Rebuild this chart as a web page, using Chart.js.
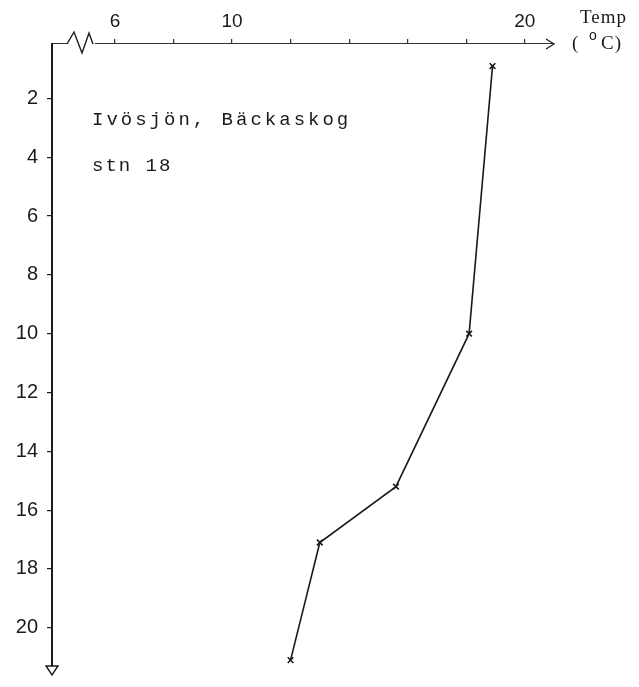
<!DOCTYPE html>
<html><head><meta charset="utf-8">
<script src="https://cdn.jsdelivr.net/npm/chart.js@4/dist/chart.umd.min.js"></script>
<style>html,body{margin:0;padding:0;background:#fff}#wrap{width:639px;height:687px}</style>
</head><body><div id="wrap"><canvas id="c" width="639" height="687"></canvas></div>
<script>
// Data (temperature profile, depth in m)
const temperatures = [18.9, 18.1, 15.6, 13.0, 12.0];
const depths = [0.9, 10.0, 15.2, 17.1, 21.1];
const tempTicks = [6, 8, 10, 12, 14, 16, 18, 20];
const tempTickLabels = ['6', '', '10', '', '', '', '', '20'];
const depthTicks = [2, 4, 6, 8, 10, 12, 14, 16, 18, 20];
const noteLines = ['Ivösjön, Bäckaskog', 'stn 18'];
const axisTitleLines = ['Temp', '(', 'o', 'C)'];

const INK = '#1a1a1a';
const points = temperatures.map((t, i) => ({x: t, y: depths[i]}));

const decor = {
  id: 'decor',
  afterDraw(chart) {
    const ctx = chart.ctx;
    const ca = chart.chartArea;
    const axY = ca.top;
    ctx.save();
    // axis break squiggle
    const x0 = ca.left + 15;
    ctx.fillStyle = '#fff';
    ctx.fillRect(x0, axY - 3, 28, 6);
    ctx.strokeStyle = INK;
    ctx.lineWidth = 1.4;
    ctx.beginPath();
    ctx.moveTo(x0, axY);
    ctx.lineTo(x0 + 7, axY - 12);
    ctx.lineTo(x0 + 15, axY + 9);
    ctx.lineTo(x0 + 22, axY - 11);
    ctx.lineTo(x0 + 26, axY);
    ctx.stroke();
    // x-axis arrow
    const xr = ca.right;
    ctx.lineWidth = 1.2;
    ctx.beginPath();
    ctx.moveTo(xr - 8, axY - 5);
    ctx.lineTo(xr, axY);
    ctx.lineTo(xr - 8, axY + 5);
    ctx.stroke();
    // y-axis arrow
    const yb = ca.bottom;
    ctx.lineWidth = 1.4;
    ctx.beginPath();
    ctx.moveTo(ca.left - 6, yb);
    ctx.lineTo(ca.left + 6, yb);
    ctx.lineTo(ca.left, yb + 9);
    ctx.closePath();
    ctx.stroke();
    // notes
    ctx.fillStyle = INK;
    ctx.textBaseline = 'middle';
    ctx.textAlign = 'left';
    ctx.font = '19px "Liberation Mono"';
    ctx.letterSpacing = '3px';
    ctx.fillText(noteLines[0], 92, 120);
    ctx.letterSpacing = '2px';
    ctx.fillText(noteLines[1], 92, 166);
    // axis title
    ctx.letterSpacing = '1px';
    ctx.font = '19px "Liberation Serif"';
    ctx.fillText(axisTitleLines[0], 580, 18);
    ctx.fillText(axisTitleLines[1], 572, 44);
    ctx.font = '14px "Liberation Sans"';
    ctx.fillText(axisTitleLines[2], 589, 36);
    ctx.font = '19px "Liberation Serif"';
    ctx.fillText(axisTitleLines[3], 601, 44);
    ctx.restore();
  }
};

new Chart(document.getElementById('c'), {
  type: 'scatter',
  data: {
    datasets: [{
      data: points,
      showLine: true,
      borderColor: INK,
      borderWidth: 1.6,
      pointStyle: 'crossRot',
      pointRadius: 4,
      pointBorderWidth: 1.6,
      pointBorderColor: INK,
      tension: 0
    }]
  },
  options: {
    responsive: false,
    animation: false,
    devicePixelRatio: 1,
    layout: {padding: {left: 0, top: 0, right: 85, bottom: 10}},
    plugins: {legend: {display: false}, tooltip: {enabled: false}},
    scales: {
      x: {
        type: 'linear',
        position: 'top',
        min: 3.85,
        max: 21.0,
        afterBuildTicks: s => { s.ticks = tempTicks.map(v => ({value: v})); },
        afterFit: s => { s.height = 44; },
        ticks: {
          autoSkip: false,
          maxRotation: 0,
          padding: 6,
          color: INK,
          font: {family: 'Liberation Sans', size: 19},
          callback: v => tempTickLabels[tempTicks.indexOf(v)] ?? ''
        },
        grid: {drawOnChartArea: false, drawTicks: true, tickLength: 5, color: '#333', lineWidth: 1.2},
        border: {display: true, color: '#333', width: 1.1}
      },
      y: {
        type: 'linear',
        reverse: true,
        min: 0.15,
        max: 21.3,
        afterBuildTicks: s => { s.ticks = depthTicks.map(v => ({value: v})); },
        afterFit: s => { s.width = 52; },
        ticks: {
          autoSkip: false,
          padding: 9,
          color: INK,
          font: {family: 'Liberation Sans', size: 20},
          callback: v => String(v)
        },
        grid: {drawOnChartArea: false, drawTicks: true, tickLength: 5, color: INK, lineWidth: 1.2},
        border: {display: true, color: INK, width: 2}
      }
    }
  },
  plugins: [decor]
});
</script>
</body></html>
